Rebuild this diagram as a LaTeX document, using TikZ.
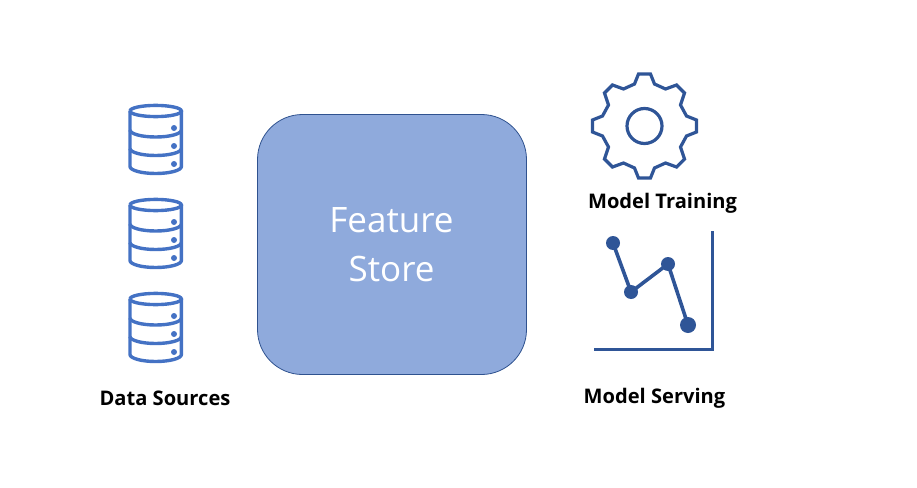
\documentclass[tikz,border=0pt]{standalone}
\usepackage{fontspec}
\setmainfont{Open Sans}
\definecolor{dbblue}{HTML}{4472C4}
\definecolor{iconblue}{HTML}{2F5597}
\definecolor{boxfill}{HTML}{8FAADC}
\definecolor{boxline}{HTML}{2F528F}
\tikzset{
  x=1pt,y=-1pt,
  dbline/.style={draw=dbblue,line width=3.4pt},
  iconline/.style={draw=iconblue,line width=3.6pt,line join=round},
  iconthin/.style={draw=iconblue,line width=3.2pt,line join=miter},
  dot/.style={fill=iconblue},
  caption/.style={font=\bfseries\fontsize{20.1}{24}\selectfont,text=black,inner sep=0pt,anchor=center},
  hub/.style={rounded corners=45pt,fill=boxfill,draw=boxline,line width=0.8pt},
  hubtext/.style={font=\fontsize{35}{49}\selectfont,text=white,align=center,inner sep=0pt}
}
\newcommand{\dbicon}[1]{%
  \begin{scope}[yshift=-#1pt]
    \draw[dbline] (130,111) arc[start angle=180,end angle=540,x radius=25.7,y radius=5.6];
    \draw[dbline] (130,111) -- (130,166.5) arc[start angle=180,end angle=0,x radius=25.7,y radius=7] -- (181.4,111);
    \draw[dbline] (130,130) arc[start angle=180,end angle=0,x radius=25.7,y radius=7];
    \draw[dbline] (130,148.5) arc[start angle=180,end angle=0,x radius=25.7,y radius=7];
    \fill[dbblue] (174,128) circle[radius=3];
    \fill[dbblue] (174,146) circle[radius=3];
    \fill[dbblue] (174,164) circle[radius=3];
  \end{scope}}
\begin{document}
\begin{tikzpicture}
\useasboundingbox (0,0) rectangle (917,487);
\dbicon{0}
\dbicon{94}
\dbicon{188}
\draw[hub] (257.5,114.5) rectangle (526.5,374.5);
\node[hubtext] (store) at (391.5,244.5) {Feature\\Store};
% gear
\begin{scope}[shift={(644.5,126)}]
\draw[iconthin] (-6,-52)--(6,-52)--(10,-42)--(21,-37)--(32,-41)--(40,-33)--(36,-21)--(42,-10)--(52,-6)
 --(52,6)--(42,10)--(36,21)--(40,33)--(32,41)--(21,37)--(10,42)--(6,52)--(-6,52)--(-10,42)--(-21,37)
 --(-32,41)--(-40,33)--(-36,21)--(-42,10)--(-52,6)--(-52,-6)--(-42,-10)--(-36,-21)--(-40,-33)--(-32,-41)
 --(-21,-37)--(-10,-42)--cycle;
\draw[iconthin] (0,0) circle[radius=17.5];
\end{scope}
\node[caption] (train) at (662.5,203) {Model Training};
% chart
\draw[iconline,line join=miter] (712.5,231) -- (712.5,349.5) -- (594,349.5);
\draw[iconline] (613,243) -- (631,292) -- (668,264) -- (688,325);
\fill[dot] (613,243) circle[radius=7];
\fill[dot] (631,292) circle[radius=7];
\fill[dot] (668,264) circle[radius=7];
\fill[dot] (688,325) circle[radius=8];
\node[caption] (serve) at (654.5,398) {Model Serving};
\node[caption] (src) at (165,398.5) {Data Sources};
\end{tikzpicture}
\end{document}
